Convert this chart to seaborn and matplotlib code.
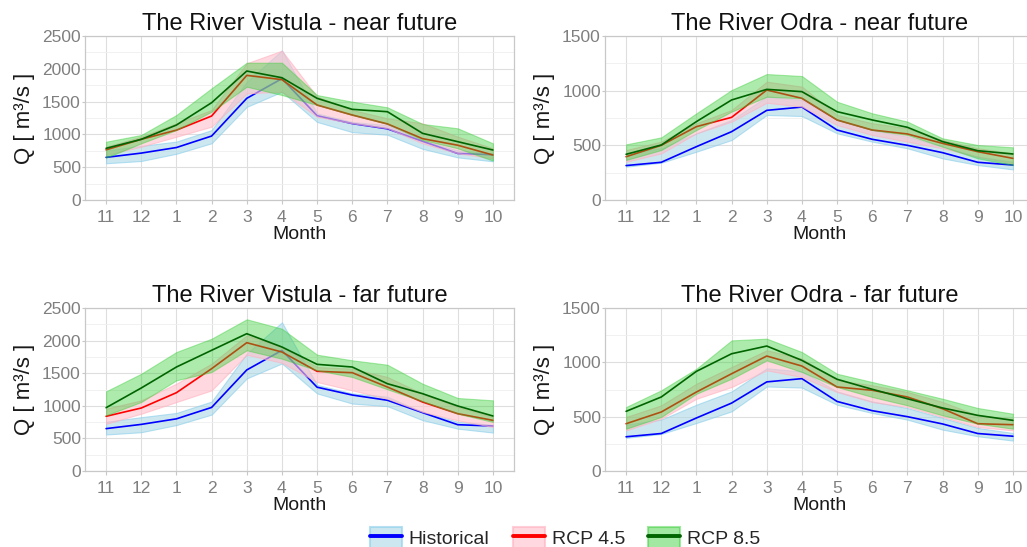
import numpy as np
import pandas as pd
import matplotlib
matplotlib.use("Agg")
import matplotlib.pyplot as plt
from matplotlib.patches import Patch
from matplotlib.lines import Line2D
import seaborn as sns

# ---------------- data ----------------
months = ["11", "12", "1", "2", "3", "4", "5", "6", "7", "8", "9", "10"]

# Vistula (historical shared by both periods)
vis_hist = [650, 715, 800, 975, 1550, 1850, 1285, 1165, 1085, 895, 710, 690]
vis_hist_lo = [560, 595, 705, 865, 1420, 1650, 1190, 1035, 995, 780, 650, 590]
vis_hist_hi = [755, 825, 890, 1065, 1800, 2280, 1320, 1190, 1140, 905, 755, 710]

vis_near_45 = [765, 925, 1065, 1280, 1900, 1835, 1448, 1296, 1160, 935, 835, 686]
vis_near_45_lo = [686, 813, 965, 1118, 1626, 1651, 1270, 1169, 1093, 864, 712, 635]
vis_near_45_hi = [813, 965, 1169, 1372, 2084, 2276, 1575, 1372, 1245, 1169, 965, 788]
vis_near_85 = [788, 925, 1143, 1483, 1966, 1864, 1550, 1382, 1346, 1016, 889, 762]
vis_near_85_lo = [645, 864, 1067, 1346, 1727, 1600, 1448, 1296, 1159, 915, 788, 600]
vis_near_85_hi = [889, 991, 1296, 1703, 2093, 2093, 1600, 1499, 1413, 1159, 1093, 864]

vis_far_45 = [839, 966, 1201, 1569, 1968, 1825, 1529, 1508, 1288, 1058, 879, 777]
vis_far_45_lo = [725, 879, 1058, 1237, 1784, 1660, 1365, 1237, 1109, 905, 777, 675]
vis_far_45_hi = [955, 1084, 1339, 1646, 2080, 1900, 1595, 1569, 1442, 1186, 982, 828]
vis_far_85 = [971, 1273, 1595, 1851, 2106, 1902, 1636, 1595, 1339, 1186, 997, 844]
vis_far_85_lo = [854, 1058, 1391, 1518, 1851, 1722, 1544, 1442, 1253, 1069, 879, 752]
vis_far_85_hi = [1222, 1492, 1825, 2029, 2327, 2182, 1784, 1698, 1630, 1339, 1120, 1084]

# Odra (historical shared by both periods)
odr_hist = [315, 345, 488, 625, 820, 850, 640, 555, 500, 433, 345, 320]
odr_hist_lo = [305, 341, 442, 549, 778, 768, 610, 534, 473, 381, 320, 280]
odr_hist_hi = [427, 473, 610, 732, 945, 915, 732, 640, 579, 488, 396, 350]

odr_near_45 = [396, 500, 671, 756, 1006, 930, 732, 640, 604, 518, 442, 381]
odr_near_45_lo = [350, 427, 610, 717, 890, 854, 686, 595, 534, 473, 396, 335]
odr_near_45_hi = [457, 534, 702, 823, 1082, 1037, 778, 702, 656, 549, 473, 427]
odr_near_85 = [418, 503, 717, 915, 1012, 991, 808, 732, 665, 534, 451, 421]
odr_near_85_lo = [366, 457, 640, 808, 945, 930, 732, 640, 595, 488, 381, 320]
odr_near_85_hi = [509, 573, 793, 1006, 1152, 1134, 899, 793, 717, 564, 503, 482]

odr_far_45 = [435, 543, 727, 895, 1058, 966, 773, 743, 681, 573, 435, 426]
odr_far_45_lo = [374, 481, 665, 773, 927, 865, 727, 635, 589, 497, 405, 374]
odr_far_45_hi = [497, 604, 803, 957, 1111, 1034, 835, 789, 727, 635, 512, 481]
odr_far_85 = [549, 681, 917, 1079, 1150, 1018, 844, 752, 665, 580, 512, 466]
odr_far_85_lo = [389, 497, 711, 849, 1018, 911, 773, 681, 604, 512, 435, 389]
odr_far_85_hi = [589, 743, 941, 1202, 1218, 1095, 895, 819, 743, 665, 580, 527]

titles = ["The River Vistula - near future", "The River Odra - near future",
          "The River Vistula - far future", "The River Odra - far future"]
series_names = ["Historical", "RCP 4.5", "RCP 8.5"]

panels = [
    [(vis_hist, vis_hist_lo, vis_hist_hi), (vis_near_45, vis_near_45_lo, vis_near_45_hi),
     (vis_near_85, vis_near_85_lo, vis_near_85_hi)],
    [(odr_hist, odr_hist_lo, odr_hist_hi), (odr_near_45, odr_near_45_lo, odr_near_45_hi),
     (odr_near_85, odr_near_85_lo, odr_near_85_hi)],
    [(vis_hist, vis_hist_lo, vis_hist_hi), (vis_far_45, vis_far_45_lo, vis_far_45_hi),
     (vis_far_85, vis_far_85_lo, vis_far_85_hi)],
    [(odr_hist, odr_hist_lo, odr_hist_hi), (odr_far_45, odr_far_45_lo, odr_far_45_hi),
     (odr_far_85, odr_far_85_lo, odr_far_85_hi)],
]
ymax = [2500, 1500, 2500, 1500]

# ---------------- style ----------------
sns.set_theme(style="white")
plt.rcParams["font.family"] = ["Liberation Sans", "DejaVu Sans"]

line_cols = ["#0000ff", "#ff0000", "#006400"]
fill_cols = ["#add8e6", "#ffc0cb", "#32cd32"]
fill_alpha = [0.6, 0.6, 0.4]
edge_cols = ["#87ceeb", "#ffb0c0", "#32cd32"]

fig = plt.figure(figsize=(10.27, 5.47), dpi=100)
W, H = 1027, 547
boxes = [(85, 36, 200), (605, 36, 200), (85, 308, 471), (605, 308, 471)]
axw = 429

x = np.arange(len(months))

for i, (x0, ytop, ybot) in enumerate(boxes):
    ax = fig.add_axes([x0 / W, 1 - ybot / H, axw / W, (ybot - ytop) / H])
    for s, (mean, lo, hi) in enumerate(panels[i]):
        ax.fill_between(x, lo, hi, facecolor=fill_cols[s], alpha=fill_alpha[s],
                        edgecolor=edge_cols[s], linewidth=0.8, zorder=2 + 2 * s)
        df = pd.DataFrame({"x": x, "Q": mean})
        sns.lineplot(data=df, x="x", y="Q", ax=ax, color=line_cols[s], linewidth=1.2,
                     zorder=3 + 2 * s)
    ax.set_xlim(-0.6, 11.6)
    ax.set_ylim(0, ymax[i])
    ax.set_xticks(x)
    ax.set_xticklabels(months)
    ax.set_yticks(np.arange(0, ymax[i] + 1, 500))
    ax.set_yticks(np.arange(250, ymax[i], 500), minor=True)
    ax.grid(True, which="major", color="#dedede", linewidth=0.8, zorder=0)
    ax.grid(True, which="minor", axis="y", color="#efefef", linewidth=0.6, zorder=0)
    ax.set_axisbelow(True)
    for sp in ax.spines.values():
        sp.set_color("#c8c8c8")
        sp.set_linewidth(0.9)
    ax.tick_params(axis="x", which="major", labelsize=12.5, labelcolor="#7f7f7f",
                   color="#c8c8c8", length=3, width=0.8, pad=4, bottom=True)
    ax.tick_params(axis="y", which="major", labelsize=12.5, labelcolor="#7f7f7f",
                   color="#c8c8c8", length=2, width=0.8, pad=1, left=True)
    ax.tick_params(axis="both", which="minor", length=0)
    ax.set_xlabel("Month", fontsize=14, color="#1a1a1a", labelpad=1)
    ax.set_ylabel("Q [ m³/s ]", fontsize=16, color="#1a1a1a", labelpad=5)
    ax.set_title(titles[i], fontsize=17, color="#111111", pad=4)

handles = []
for s in range(3):
    p = Patch(facecolor=fill_cols[s], alpha=fill_alpha[s] if s < 2 else 0.45,
              edgecolor=edge_cols[s], linewidth=1.5)
    l = Line2D([], [], color=line_cols[s], linewidth=2.8)
    handles.append((p, l))
fig.legend(handles, series_names, loc="center", bbox_to_anchor=(565 / W, 1 - 538 / H),
           ncol=3, frameon=False, fontsize=14, handlelength=1.65, handleheight=1.35,
           handletextpad=0.35, columnspacing=1.2)

fig.savefig("out.png", dpi=100)
